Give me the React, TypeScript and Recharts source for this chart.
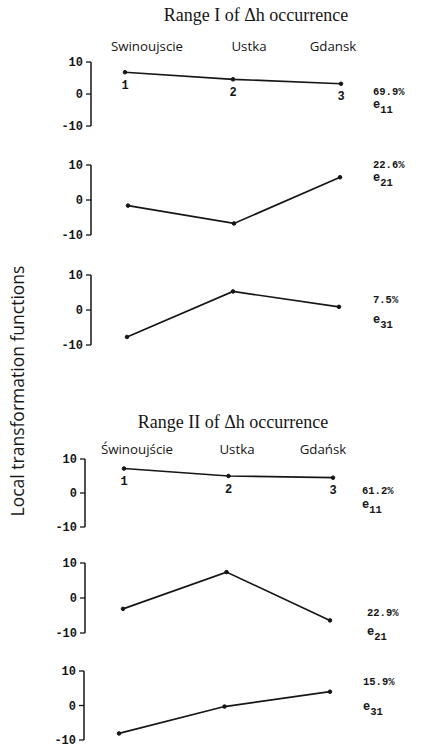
import React from 'react';
import { LineChart, Line, XAxis, YAxis, LabelList } from 'recharts';

// station order along the coast
const pointIds = [1, 2, 3];
const stationsI = ['Swinoujscie', 'Ustka', 'Gdansk'];
const stationsII = ['Świnoujście', 'Ustka', 'Gdańsk'];
const yTicks = [-10, 0, 10];

// local transformation functions, range I
const rangeIe11 = [6.8, 4.6, 3.2];
const rangeIe21 = [-1.6, -6.7, 6.5];
const rangeIe31 = [-7.7, 5.3, 0.9];

// local transformation functions, range II
const rangeIIe11 = [7.2, 5.0, 4.5];
const rangeIIe21 = [-3.1, 7.4, -6.4];
const rangeIIe31 = [-8.1, -0.3, 4.0];

const sharesI = ['69.9%', '22.6%', '7.5%'];
const sharesII = ['61.2%', '22.9%', '15.9%'];
const components = ['11', '21', '31'];

const INK = '#161616';
const monoFont = '"Liberation Mono", "DejaVu Sans Mono", monospace';

interface PanelProps {
  values: number[];
  y10: number; // page y of the +10 tick
  yMinus10: number; // page y of the -10 tick
  axisX: number;
  x1: number;
  x3: number;
  showNumbers?: boolean;
}

const Panel: React.FC<PanelProps> = ({ values, y10, yMinus10, axisX, x1, x3, showNumbers }) => {
  const data = pointIds.map((id, i) => ({ idx: id, v: values[i] }));
  const axisW = 50;
  const unit = (x3 - x1) / 2;
  const lo = 1 - (x1 - axisX) / unit;
  const hi = 3.3;
  const plotW = (hi - lo) * unit;
  const mTop = 12;
  const mBottom = 24;
  const plotH = yMinus10 - y10;

  return (
    <div style={{ position: 'absolute', left: axisX - axisW, top: y10 - mTop }}>
      <LineChart
        width={axisW + plotW}
        height={plotH + mTop + mBottom}
        data={data}
        margin={{ top: mTop, right: 0, bottom: mBottom, left: 0 }}
      >
        <XAxis type="number" dataKey="idx" domain={[lo, hi]} hide />
        <YAxis
          domain={[-10, 10]}
          ticks={yTicks}
          interval={0}
          width={axisW}
          tickSize={5}
          tickMargin={3}
          axisLine={{ stroke: INK, strokeWidth: 1.5 }}
          tickLine={{ stroke: INK, strokeWidth: 1.3 }}
          tick={{ fill: INK, fontSize: 12, fontFamily: monoFont, fontWeight: 700 }}
        />
        <Line
          type="linear"
          dataKey="v"
          stroke={INK}
          strokeWidth={1.7}
          dot={{ r: 1.8, fill: INK, stroke: INK, strokeWidth: 1 }}
          isAnimationActive={false}
        >
          {showNumbers && (
            <LabelList
              dataKey="idx"
              position="bottom"
              offset={8}
              style={{ fill: INK, fontSize: 12, fontFamily: monoFont, fontWeight: 700 }}
            />
          )}
        </Line>
      </LineChart>
    </div>
  );
};

const Text: React.FC<{ x: number; y: number; center?: boolean; style?: React.CSSProperties; children: React.ReactNode }> = ({
  x,
  y,
  center,
  style,
  children,
}) => (
  <div
    style={{
      position: 'absolute',
      left: x,
      top: y,
      transform: center ? 'translate(-50%, -50%)' : 'translateY(-50%)',
      whiteSpace: 'nowrap',
      lineHeight: 1,
      color: INK,
      ...style,
    }}
  >
    {children}
  </div>
);

const shareStyle: React.CSSProperties = { fontFamily: monoFont, fontSize: 10.5, fontWeight: 700 };
const compStyle: React.CSSProperties = { fontFamily: monoFont, fontSize: 12, fontWeight: 700 };
const stationStyle: React.CSSProperties = { fontFamily: '"Open Sans", sans-serif', fontSize: 13.3 };
const titleStyle: React.CSSProperties = { fontFamily: '"Liberation Serif", serif', fontSize: 18 };

const Comp: React.FC<{ c: string }> = ({ c }) => (
  <span>
    e<span style={{ fontSize: 10.5, position: 'relative', top: 5 }}>{c}</span>
  </span>
);

export default function App() {
  return (
    <div style={{ position: 'absolute', left: 0, top: 0, width: 424, height: 749, background: '#fff' }}>
      <Text x={18} y={391} center style={{ fontFamily: '"Open Sans", sans-serif', fontSize: 17.5, transform: 'translate(-50%, -50%) rotate(-90deg)' }}>
        Local transformation functions
      </Text>

      {/* Range I */}
      <Text x={256} y={15} center style={titleStyle}>
        Range I of Δh occurrence
      </Text>
      <Text x={147} y={47} center style={stationStyle}>{stationsI[0]}</Text>
      <Text x={249} y={47} center style={stationStyle}>{stationsI[1]}</Text>
      <Text x={333} y={47} center style={stationStyle}>{stationsI[2]}</Text>

      <Panel values={rangeIe11} y10={62} yMinus10={126} axisX={91} x1={125} x3={341} showNumbers />
      <Panel values={rangeIe21} y10={165} yMinus10={235} axisX={91} x1={128} x3={340} />
      <Panel values={rangeIe31} y10={275} yMinus10={345} axisX={91} x1={127} x3={339} />

      <Text x={373} y={92} style={shareStyle}>{sharesI[0]}</Text>
      <Text x={373} y={105} style={compStyle}><Comp c={components[0]} /></Text>
      <Text x={373} y={165} style={shareStyle}>{sharesI[1]}</Text>
      <Text x={373} y={178} style={compStyle}><Comp c={components[1]} /></Text>
      <Text x={373} y={300} style={shareStyle}>{sharesI[2]}</Text>
      <Text x={373} y={320} style={compStyle}><Comp c={components[2]} /></Text>

      {/* Range II */}
      <Text x={233} y={422} center style={titleStyle}>
        Range II of Δh occurrence
      </Text>
      <Text x={137} y={450} center style={stationStyle}>{stationsII[0]}</Text>
      <Text x={237} y={450} center style={stationStyle}>{stationsII[1]}</Text>
      <Text x={323} y={450} center style={stationStyle}>{stationsII[2]}</Text>

      <Panel values={rangeIIe11} y10={459} yMinus10={527} axisX={85} x1={124} x3={333} showNumbers />
      <Panel values={rangeIIe21} y10={563} yMinus10={633} axisX={85} x1={123} x3={330} />
      <Panel values={rangeIIe31} y10={671} yMinus10={740} axisX={84} x1={119} x3={330} />

      <Text x={362} y={491} style={shareStyle}>{sharesII[0]}</Text>
      <Text x={362} y={505} style={compStyle}><Comp c={components[0]} /></Text>
      <Text x={367} y={613} style={shareStyle}>{sharesII[1]}</Text>
      <Text x={367} y={632} style={compStyle}><Comp c={components[1]} /></Text>
      <Text x={363} y={682} style={shareStyle}>{sharesII[2]}</Text>
      <Text x={363} y={707} style={compStyle}><Comp c={components[2]} /></Text>
    </div>
  );
}
